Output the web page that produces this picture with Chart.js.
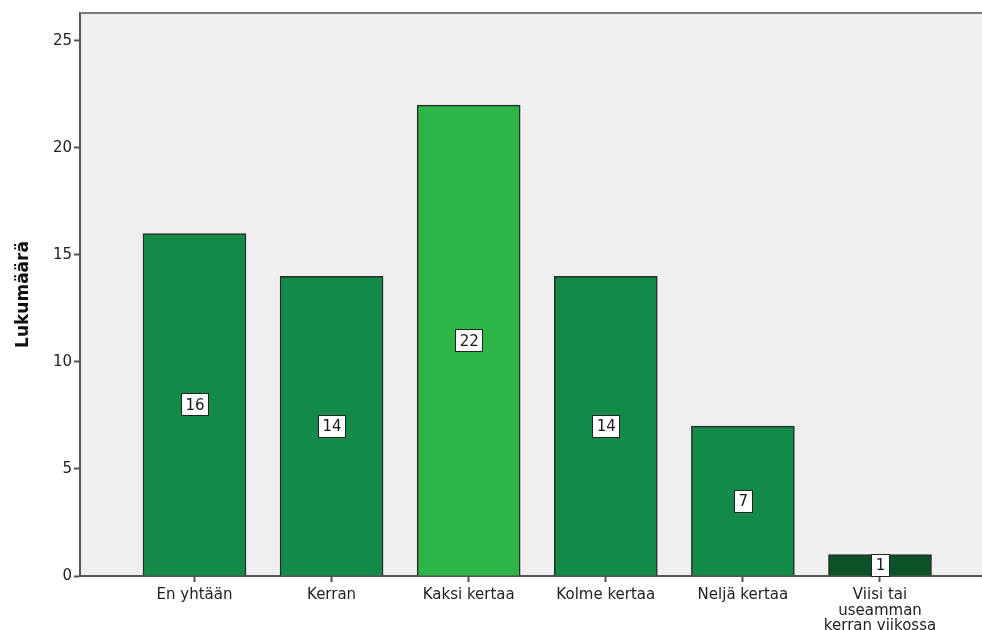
<!DOCTYPE html>
<html>
<head>
<meta charset="utf-8">
<script src="https://cdn.jsdelivr.net/npm/chart.js@4"></script>
<style>
  body { margin: 0; background: #fff; }
  canvas { display: block; }
</style>
</head>
<body>
<canvas id="myChart" width="982" height="630"></canvas>
<script>
const categories = ["En yhtään", "Kerran", "Kaksi kertaa", "Kolme kertaa", "Neljä kertaa", ["Viisi tai", "useamman", "kerran viikossa"]];
const counts = [16, 14, 22, 14, 7, 1];
const barColors = ["#138a47", "#138a47", "#2eb548", "#138a47", "#138a47", "#0b5229"];
const yTicks = [0, 5, 10, 15, 20, 25];

// plot background and top frame line
const frame = {
  id: "frame",
  beforeDraw(chart) {
    const { ctx, chartArea: a } = chart;
    ctx.save();
    ctx.fillStyle = "#efefef";
    ctx.fillRect(a.left, a.top, a.right - a.left, a.bottom - a.top);
    ctx.restore();
  },
  afterDraw(chart) {
    const { ctx, chartArea: a } = chart;
    ctx.save();
    ctx.strokeStyle = "#7a7a7a";
    ctx.lineWidth = 2;
    ctx.beginPath();
    ctx.moveTo(a.left, a.top);
    ctx.lineTo(a.right, a.top);
    ctx.stroke();
    ctx.restore();
  },
};

// white boxed value labels in the middle of each bar
const valueLabels = {
  id: "valueLabels",
  afterDatasetsDraw(chart) {
    const ctx = chart.ctx;
    const meta = chart.getDatasetMeta(0);
    ctx.save();
    ctx.font = "15px 'DejaVu Sans'";
    ctx.textAlign = "center";
    ctx.textBaseline = "middle";
    meta.data.forEach((bar, i) => {
      const txt = String(counts[i]);
      const cy = (bar.y + bar.base) / 2;
      const w = Math.round(ctx.measureText(txt).width + 8);
      const h = 22;
      const x0 = Math.round(bar.x - w / 2);
      const y0 = Math.round(cy - h / 2);
      ctx.fillStyle = "#ffffff";
      ctx.fillRect(x0, y0, w, h);
      ctx.strokeStyle = "#222";
      ctx.lineWidth = 1;
      ctx.strokeRect(x0 + 0.5, y0 + 0.5, w, h);
      ctx.fillStyle = "#1a1a1a";
      ctx.fillText(txt, bar.x + 0.5, cy + 1.5);
    });
    ctx.restore();
  },
};

const ctx = document.getElementById("myChart").getContext("2d");
const myChart = new Chart(ctx, {
  type: "bar",
  data: {
    datasets: [
      {
        data: counts.map((c, i) => ({ x: i, y: c })),
        backgroundColor: barColors,
        borderColor: "#2b2b2b",
        borderWidth: 1.5,
        barThickness: 103,
      },
    ],
  },
  options: {
    responsive: false,
    animation: false,
    layout: { padding: { top: 13, right: 0, left: 0, bottom: 0 } },
    plugins: {
      legend: { display: false },
      tooltip: { enabled: false },
    },
    scales: {
      x: {
        type: "linear",
        offset: false,
        min: -0.835,
        max: 5.744,
        afterBuildTicks: (axis) => {
          axis.ticks = axis.ticks.filter((t) => Number.isInteger(t.value) && t.value >= 0 && t.value <= 5);
        },
        afterFit: (axis) => { axis.height = 54; },
        ticks: {
          stepSize: 1,
          autoSkip: false,
          maxRotation: 0,
          padding: 5,
          color: "#222",
          font: { family: "'DejaVu Sans'", size: 15, lineHeight: 1.05 },
          callback: (v) => categories[v],
        },
        grid: { offset: false, drawOnChartArea: false, tickLength: 6, tickWidth: 2, color: "#555" },
        border: { display: true, color: "#555", width: 2 },
      },
      y: {
        min: 0,
        max: 26.3,
        afterBuildTicks: (axis) => {
          axis.ticks = yTicks.map((v) => ({ value: v }));
        },
        afterFit: (axis) => { axis.width = 80; },
        ticks: {
          padding: 2,
          color: "#222",
          font: { family: "'DejaVu Sans'", size: 15 },
        },
        grid: { drawOnChartArea: false, tickLength: 6, tickWidth: 2, color: "#555" },
        border: { display: true, color: "#555", width: 2 },
        title: {
          display: true,
          text: "Lukumäärä",
          color: "#111",
          font: { family: "'DejaVu Sans'", size: 17, weight: "bold" },
          padding: { top: 13, bottom: 0 },
        },
      },
    },
  },
  plugins: [frame, valueLabels],
});
</script>
</body>
</html>
